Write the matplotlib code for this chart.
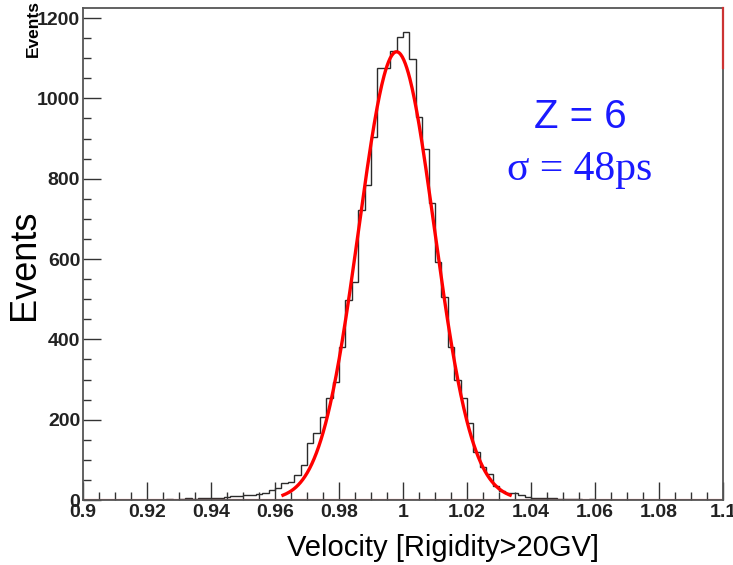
"""Velocity distribution for Z = 6 with Gaussian fit (ROOT-style histogram)."""

import matplotlib
matplotlib.use("Agg")
import matplotlib.pyplot as plt
import numpy as np
from matplotlib.ticker import MultipleLocator

# histogram: 100 bins of width 0.002 between 0.9 and 1.1
bin_lo = 0.9
bin_hi = 1.1
counts = [
    0, 0, 1, 0, 0, 1, 0, 0, 1, 0, 1, 0, 1, 2, 1,
    3, 4, 3, 5, 4, 5, 6, 8, 9, 11, 12, 13, 15, 17, 25,
    30, 42, 45, 62, 87, 142, 167, 207, 255, 295,
    382, 498, 543, 722, 784, 905, 1075, 1075, 1118, 1152,
    1166, 1097, 954, 875, 739, 593, 506, 382, 299, 253,
    191, 120, 83, 66, 35, 22, 17, 18, 12, 8,
    6, 5, 4, 4, 3, 3, 2, 3, 1, 2, 1, 1, 0, 1, 0,
    0, 1, 0, 0, 0, 0, 0, 0, 0, 0, 0, 0, 0, 0, 0,
]

# gaussian fit parameters
fit_amp = 1116
fit_mean = 0.998
fit_sigma = 0.0118
fit_range = (0.9625, 1.0335)

label_z = "Z = 6"
label_sigma = "σ = 48ps"

edges = np.linspace(bin_lo, bin_hi, len(counts) + 1)

fig = plt.figure(figsize=(7.33, 5.65), dpi=100)
ax = fig.add_axes([0.1132, 0.115, 0.8731, 0.8708])

tick_family = ["Liberation Sans Narrow", "Liberation Sans"]

ax.stairs(counts, edges, color="#2b2b2b", lw=1.0)
ax.axhline(0, color="#e05555", lw=1.6, alpha=0.7, zorder=1)

xf = np.linspace(*fit_range, 300)
yf = fit_amp * np.exp(-0.5 * ((xf - fit_mean) / fit_sigma) ** 2)
ax.plot(xf, yf, color="red", lw=2.4, zorder=3)

ax.set_xlim(bin_lo, bin_hi)
ax.set_ylim(0, 1225)
ax.plot([bin_hi, bin_hi], [1075, 1225], color="#cc3333", lw=1.6, clip_on=False, zorder=5)

ax.xaxis.set_major_locator(MultipleLocator(0.02))
ax.xaxis.set_minor_locator(MultipleLocator(0.005))
ax.yaxis.set_major_locator(MultipleLocator(200))
ax.yaxis.set_minor_locator(MultipleLocator(50))
ax.tick_params(which="both", direction="in", top=False, right=False, color="#333333", width=1.0)
ax.tick_params(which="major", length=13)
ax.tick_params(which="minor", length=6)
ax.tick_params(axis="x", pad=3)
ax.tick_params(axis="y", pad=2)

ax.set_xticks(np.arange(0.9, 1.1001, 0.02))
ax.set_xticklabels(["0.9", "0.92", "0.94", "0.96", "0.98", "1", "1.02", "1.04", "1.06", "1.08", "1.1"])
for lab in ax.get_xticklabels() + ax.get_yticklabels():
    lab.set_fontfamily(tick_family)
    lab.set_fontweight("bold")
    lab.set_fontsize(14)
    lab.set_color("#222222")

for side in ("left", "bottom", "top", "right"):
    ax.spines[side].set_color("#555555")
    ax.spines[side].set_linewidth(1.3)

fig.text(0.604, 0.03, "Velocity [Rigidity>20GV]", fontsize=21, family="Liberation Sans",
         ha="center", va="center")
fig.text(0.034, 0.531, "Events", rotation=90, fontsize=26, family="Liberation Sans",
         ha="center", va="center")
fig.text(0.045, 0.95, "Events", rotation=90, fontsize=12.5, fontweight="bold",
         family=tick_family, ha="center", va="center")

ax.text(1.0553, 953, label_z, color="#1a1aff", fontsize=29, family="Liberation Sans",
        ha="center", va="center")
ax.text(1.0553, 822, label_sigma, color="#1a1aff", fontsize=30, family="Liberation Serif",
        ha="center", va="center")

fig.savefig("out.png", dpi=100, facecolor="white")
